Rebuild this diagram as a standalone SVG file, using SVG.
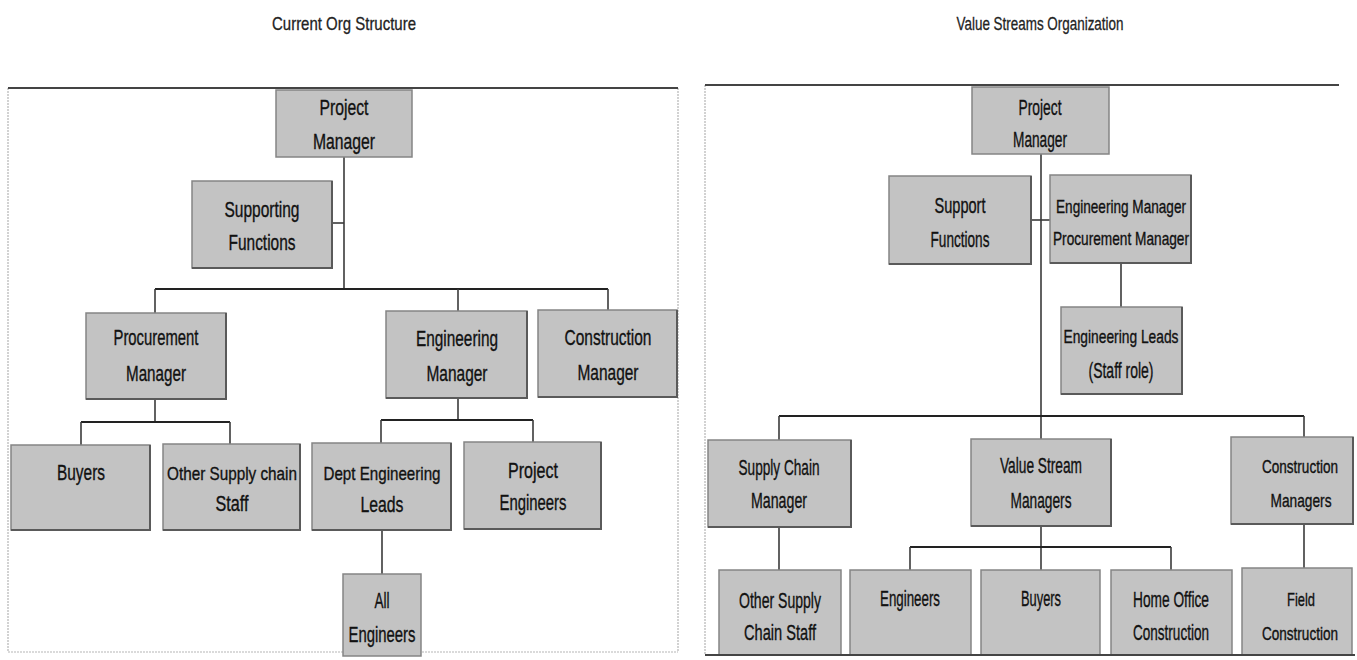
<svg xmlns="http://www.w3.org/2000/svg" width="1357" height="660" viewBox="0 0 1357 660">
  <style>
    .box rect.b { fill: #c3c3c3; stroke: #858585; stroke-width: 1.5; }
    .box path.s { fill: none; stroke: #5a5a5a; stroke-width: 2; }
    .lbl { font-family: "Liberation Sans", Arial, sans-serif; font-size: 22px; fill: #111; stroke: #111; stroke-width: 0.35; text-anchor: middle; }
    .lbl.sm { font-size: 19px; }
    .lbl.xs { font-size: 17.5px; }
    .title { font-family: "Liberation Sans", Arial, sans-serif; font-size: 19px; fill: #222; stroke: #222; stroke-width: 0.3; text-anchor: middle; }
    .bus { stroke: #222; stroke-width: 2.2; fill: none; }
    .stem { stroke: #3a3a3a; stroke-width: 1.6; fill: none; }
    .frame-top { stroke: #444; stroke-width: 2; }
    .frame-side { stroke: #b5b5b5; stroke-width: 1.2; stroke-dasharray: 2 1; }
  </style>
  <rect width="1357" height="660" fill="#ffffff"/>

  <!-- panel titles -->
  <text class="title" x="344" y="30" textLength="144" lengthAdjust="spacingAndGlyphs">Current Org Structure</text>
  <text class="title" x="1040" y="30" textLength="167" lengthAdjust="spacingAndGlyphs">Value Streams Organization</text>

  <!-- panel frames -->
  <g id="frames">
    <line class="frame-side" x1="8" y1="88" x2="8" y2="652"/>
    <line class="frame-side" x1="678" y1="88" x2="678" y2="652"/>
    <line class="frame-side" x1="8" y1="652" x2="678" y2="652"/>
    <line class="frame-top" x1="8" y1="88" x2="678" y2="88"/>
    <line class="frame-side" x1="705" y1="85" x2="705" y2="655"/>
    <line class="frame-top" x1="705" y1="85" x2="1339" y2="85"/>
  </g>

  <!-- connectors -->
  <g id="connectors">
    <!-- current org -->
    <line class="stem" x1="344" y1="157" x2="344" y2="289"/>
    <line class="stem" x1="332" y1="223" x2="344" y2="223"/>
    <line class="bus" x1="155" y1="289" x2="608" y2="289"/>
    <line class="stem" x1="155" y1="289" x2="155" y2="313"/>
    <line class="stem" x1="458" y1="289" x2="458" y2="311"/>
    <line class="stem" x1="608" y1="289" x2="608" y2="310"/>
    <line class="stem" x1="155" y1="399" x2="155" y2="422"/>
    <line class="bus" x1="81" y1="422" x2="230" y2="422"/>
    <line class="stem" x1="81" y1="422" x2="81" y2="445"/>
    <line class="stem" x1="230" y1="422" x2="230" y2="444"/>
    <line class="stem" x1="458" y1="398" x2="458" y2="420"/>
    <line class="bus" x1="381" y1="420" x2="533" y2="420"/>
    <line class="stem" x1="381" y1="420" x2="381" y2="443"/>
    <line class="stem" x1="533" y1="420" x2="533" y2="442"/>
    <line class="stem" x1="382" y1="530" x2="382" y2="574"/>
    <!-- value streams -->
    <line class="stem" x1="1041" y1="154" x2="1041" y2="439"/>
    <line class="stem" x1="1031" y1="220" x2="1050" y2="220"/>
    <line class="stem" x1="1121" y1="263" x2="1121" y2="307"/>
    <line class="bus" x1="779" y1="416" x2="1304" y2="416"/>
    <line class="stem" x1="779" y1="416" x2="779" y2="440"/>
    <line class="stem" x1="1304" y1="416" x2="1304" y2="437"/>
    <line class="stem" x1="779" y1="527" x2="779" y2="570"/>
    <line class="stem" x1="1041" y1="526" x2="1041" y2="570"/>
    <line class="bus" x1="910" y1="547" x2="1171" y2="547"/>
    <line class="stem" x1="910" y1="547" x2="910" y2="570"/>
    <line class="stem" x1="1171" y1="547" x2="1171" y2="570"/>
    <line class="stem" x1="1304" y1="524" x2="1304" y2="568"/>
  </g>

  <!-- current org nodes -->
  <g id="cur-project-manager" class="box">
    <rect class="b" x="276" y="90" width="136" height="67"/>
    <text class="lbl" x="344" y="115" textLength="49" lengthAdjust="spacingAndGlyphs">Project</text>
    <text class="lbl" x="344" y="149" textLength="62" lengthAdjust="spacingAndGlyphs">Manager</text>
  </g>
  <g id="cur-supporting-functions" class="box">
    <rect class="b" x="192" y="181" width="140" height="87"/>
    <path class="s" d="M192,268 H332 V181"/>
    <text class="lbl" x="262" y="217" textLength="75" lengthAdjust="spacingAndGlyphs">Supporting</text>
    <text class="lbl" x="262" y="250" textLength="67" lengthAdjust="spacingAndGlyphs">Functions</text>
  </g>
  <g id="cur-procurement-manager" class="box">
    <rect class="b" x="86" y="313" width="140" height="86"/>
    <path class="s" d="M86,399 H226 V313"/>
    <text class="lbl" x="156" y="345" textLength="85" lengthAdjust="spacingAndGlyphs">Procurement</text>
    <text class="lbl" x="156" y="381" textLength="60" lengthAdjust="spacingAndGlyphs">Manager</text>
  </g>
  <g id="cur-engineering-manager" class="box">
    <rect class="b" x="386" y="311" width="141" height="87"/>
    <path class="s" d="M386,398 H527 V311"/>
    <text class="lbl" x="457" y="346" textLength="82" lengthAdjust="spacingAndGlyphs">Engineering</text>
    <text class="lbl" x="457" y="381" textLength="61" lengthAdjust="spacingAndGlyphs">Manager</text>
  </g>
  <g id="cur-construction-manager" class="box">
    <rect class="b" x="538" y="310" width="139" height="87"/>
    <path class="s" d="M538,397 H677 V310"/>
    <text class="lbl" x="608" y="345" textLength="87" lengthAdjust="spacingAndGlyphs">Construction</text>
    <text class="lbl" x="608" y="380" textLength="61" lengthAdjust="spacingAndGlyphs">Manager</text>
  </g>
  <g id="cur-buyers" class="box">
    <rect class="b" x="11" y="445" width="139" height="85"/>
    <path class="s" d="M11,530 H150 V445"/>
    <text class="lbl" x="81" y="480" textLength="48" lengthAdjust="spacingAndGlyphs">Buyers</text>
  </g>
  <g id="cur-other-supply-chain-staff" class="box">
    <rect class="b" x="163" y="444" width="137" height="86"/>
    <path class="s" d="M163,530 H300 V444"/>
    <text class="lbl sm" x="232" y="480" textLength="130" lengthAdjust="spacingAndGlyphs">Other Supply chain</text>
    <text class="lbl" x="232" y="511" textLength="33" lengthAdjust="spacingAndGlyphs">Staff</text>
  </g>
  <g id="cur-dept-engineering-leads" class="box">
    <rect class="b" x="312" y="443" width="139" height="87"/>
    <path class="s" d="M312,530 H451 V443"/>
    <text class="lbl sm" x="382" y="480" textLength="117" lengthAdjust="spacingAndGlyphs">Dept Engineering</text>
    <text class="lbl" x="382" y="512" textLength="43" lengthAdjust="spacingAndGlyphs">Leads</text>
  </g>
  <g id="cur-project-engineers" class="box">
    <rect class="b" x="464" y="442" width="137" height="87"/>
    <path class="s" d="M464,529 H601 V442"/>
    <text class="lbl" x="533" y="478" textLength="50" lengthAdjust="spacingAndGlyphs">Project</text>
    <text class="lbl" x="533" y="510" textLength="67" lengthAdjust="spacingAndGlyphs">Engineers</text>
  </g>
  <g id="cur-all-engineers" class="box">
    <rect class="b" x="343" y="574" width="78" height="82"/>
    <text class="lbl" x="382" y="608" textLength="15" lengthAdjust="spacingAndGlyphs">All</text>
    <text class="lbl" x="382" y="642" textLength="67" lengthAdjust="spacingAndGlyphs">Engineers</text>
  </g>

  <!-- value streams nodes -->
  <g id="vs-project-manager" class="box">
    <rect class="b" x="972" y="87" width="137" height="67"/>
    <text class="lbl" x="1040" y="115" textLength="43" lengthAdjust="spacingAndGlyphs">Project</text>
    <text class="lbl" x="1040" y="147" textLength="54" lengthAdjust="spacingAndGlyphs">Manager</text>
  </g>
  <g id="vs-support-functions" class="box">
    <rect class="b" x="889" y="176" width="142" height="88"/>
    <path class="s" d="M889,264 H1031 V176"/>
    <text class="lbl" x="960" y="213" textLength="51" lengthAdjust="spacingAndGlyphs">Support</text>
    <text class="lbl" x="960" y="247" textLength="59" lengthAdjust="spacingAndGlyphs">Functions</text>
  </g>
  <g id="vs-eng-proc-manager" class="box">
    <rect class="b" x="1050" y="175" width="141" height="88"/>
    <path class="s" d="M1050,263 H1191 V175"/>
    <text class="lbl sm" x="1121" y="213" textLength="130" lengthAdjust="spacingAndGlyphs">Engineering Manager</text>
    <text class="lbl sm" x="1121" y="245" textLength="136" lengthAdjust="spacingAndGlyphs">Procurement Manager</text>
  </g>
  <g id="vs-engineering-leads" class="box">
    <rect class="b" x="1061" y="307" width="121" height="87"/>
    <path class="s" d="M1061,394 H1182 V307"/>
    <text class="lbl sm" x="1121" y="343" textLength="115" lengthAdjust="spacingAndGlyphs">Engineering Leads</text>
    <text class="lbl" x="1121" y="378" textLength="65" lengthAdjust="spacingAndGlyphs">(Staff role)</text>
  </g>
  <g id="vs-supply-chain-manager" class="box">
    <rect class="b" x="708" y="440" width="143" height="87"/>
    <path class="s" d="M708,527 H851 V440"/>
    <text class="lbl" x="779" y="475" textLength="81" lengthAdjust="spacingAndGlyphs">Supply Chain</text>
    <text class="lbl" x="779" y="508" textLength="56" lengthAdjust="spacingAndGlyphs">Manager</text>
  </g>
  <g id="vs-value-stream-managers" class="box">
    <rect class="b" x="971" y="439" width="140" height="87"/>
    <path class="s" d="M971,526 H1111 V439"/>
    <text class="lbl" x="1041" y="473" textLength="82" lengthAdjust="spacingAndGlyphs">Value Stream</text>
    <text class="lbl" x="1041" y="508" textLength="61" lengthAdjust="spacingAndGlyphs">Managers</text>
  </g>
  <g id="vs-construction-managers" class="box">
    <rect class="b" x="1231" y="437" width="122" height="87"/>
    <path class="s" d="M1231,524 H1353 V437"/>
    <text class="lbl xs" x="1300" y="473" textLength="76" lengthAdjust="spacingAndGlyphs">Construction</text>
    <text class="lbl sm" x="1301" y="507" textLength="61" lengthAdjust="spacingAndGlyphs">Managers</text>
  </g>
  <g id="vs-other-supply-chain-staff" class="box">
    <rect class="b" x="719" y="570" width="122" height="85"/>
    <text class="lbl" x="780" y="608" textLength="82" lengthAdjust="spacingAndGlyphs">Other Supply</text>
    <text class="lbl" x="780" y="640" textLength="72" lengthAdjust="spacingAndGlyphs">Chain Staff</text>
  </g>
  <g id="vs-engineers" class="box">
    <rect class="b" x="850" y="570" width="121" height="85"/>
    <text class="lbl" x="910" y="606" textLength="60" lengthAdjust="spacingAndGlyphs">Engineers</text>
  </g>
  <g id="vs-buyers" class="box">
    <rect class="b" x="981" y="570" width="119" height="85"/>
    <text class="lbl" x="1041" y="606" textLength="40" lengthAdjust="spacingAndGlyphs">Buyers</text>
  </g>
  <g id="vs-home-office-construction" class="box">
    <rect class="b" x="1111" y="570" width="121" height="85"/>
    <text class="lbl" x="1171" y="607" textLength="76" lengthAdjust="spacingAndGlyphs">Home Office</text>
    <text class="lbl" x="1171" y="640" textLength="76" lengthAdjust="spacingAndGlyphs">Construction</text>
  </g>
  <g id="vs-field-construction" class="box">
    <rect class="b" x="1242" y="568" width="110" height="87"/>
    <text class="lbl sm" x="1301" y="606" textLength="28" lengthAdjust="spacingAndGlyphs">Field</text>
    <text class="lbl xs" x="1300" y="640" textLength="76" lengthAdjust="spacingAndGlyphs">Construction</text>
  </g>

  <!-- bottom edge of the value streams panel -->
  <line class="frame-top" x1="705" y1="655" x2="1355" y2="655"/>
</svg>
